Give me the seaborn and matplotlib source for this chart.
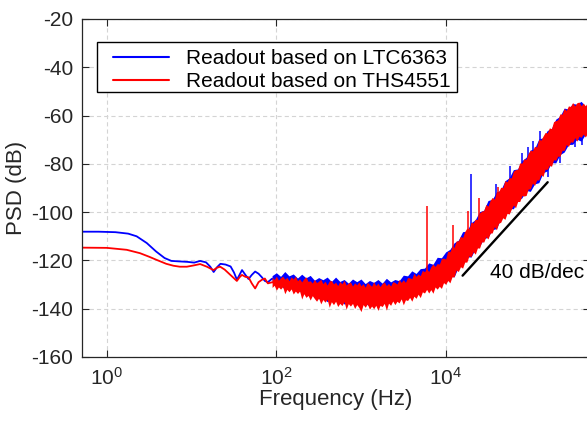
import numpy as np
import pandas as pd
import matplotlib
matplotlib.use("Agg")
import matplotlib.pyplot as plt
from matplotlib.lines import Line2D
from matplotlib.patches import Rectangle
from matplotlib.legend_handler import HandlerLine2D
from matplotlib.ticker import FixedLocator, FixedFormatter, NullLocator
import seaborn as sns

# ---------------- data (log10 of frequency in Hz, PSD in dB) ----------------
# smooth low-frequency part
BLUE_LF_LOGF = [-0.31, -0.10, 0.10, 0.25, 0.35, 0.47, 0.58, 0.68, 0.76, 0.85, 0.95, 1.03,
                1.10, 1.17, 1.22, 1.26, 1.30, 1.34, 1.40, 1.46, 1.50, 1.535, 1.565, 1.595,
                1.635, 1.672, 1.71, 1.75, 1.79, 1.83, 1.865, 1.90]
BLUE_LF_PSD = [-108.1, -108.1, -108.3, -108.9, -110.0, -112.8, -116.3, -119.0, -120.2, -120.4,
               -120.6, -120.9, -120.2, -120.8, -122.6, -124.8, -122.8, -121.4, -121.7, -122.5,
               -125.0, -128.0, -126.0, -124.0, -126.0, -127.7, -126.0, -124.6, -125.5, -127.0,
               -128.5, -129.0]
RED_LF_LOGF = [-0.31, 0.00, 0.233, 0.39, 0.50, 0.588, 0.70, 0.785, 0.86, 0.943, 1.02, 1.10,
               1.18, 1.258, 1.30, 1.337, 1.39, 1.436, 1.49, 1.534, 1.565, 1.594, 1.635, 1.672,
               1.71, 1.75, 1.79, 1.83, 1.865, 1.90]
RED_LF_PSD = [-114.7, -114.8, -115.6, -117.0, -118.5, -119.8, -121.4, -122.2, -122.6, -122.6,
              -122.1, -121.5, -122.6, -124.0, -123.0, -122.6, -123.8, -125.3, -127.0, -128.5,
              -127.0, -126.0, -126.8, -127.0, -129.5, -131.6, -129.0, -128.0, -127.5, -129.5]

# noisy part of LTC6363 trace: lower / upper envelope of the noise band
BLUE_BAND_LOGF = [1.95, 2.00, 2.05, 2.10, 2.15, 2.20, 2.25, 2.30, 2.35, 2.40, 2.45, 2.50, 2.55,
                  2.60, 2.65, 2.70, 2.75, 2.80, 2.85, 2.90, 2.95, 3.00, 3.05, 3.10, 3.15, 3.20,
                  3.25, 3.30, 3.35, 3.40, 3.45, 3.50, 3.55, 3.60, 3.65, 3.70, 3.75, 3.80, 3.85,
                  3.90, 3.95, 4.00, 4.05, 4.10, 4.15, 4.20, 4.25, 4.30, 4.35, 4.40, 4.45, 4.50,
                  4.55, 4.60, 4.65, 4.70, 4.75, 4.80, 4.85, 4.90, 4.95, 5.00, 5.05, 5.10, 5.15,
                  5.20, 5.25, 5.30, 5.35, 5.40, 5.45, 5.50, 5.55, 5.60, 5.65, 5.70]
BLUE_HI = [-126.3, -125.1, -126.6, -124.6, -126.4, -125.6, -127.3, -125.7, -127.2, -126.2,
           -128.2, -127.1, -128.0, -126.9, -128.7, -126.9, -128.7, -127.9, -129.4, -127.7,
           -128.8, -127.7, -129.6, -128.3, -129.1, -127.9, -129.4, -127.4, -128.9, -127.9,
           -128.4, -126.1, -126.4, -124.3, -125.4, -123.4, -123.2, -121.0, -121.6, -118.7,
           -118.9, -116.5, -115.4, -112.7, -111.6, -108.1, -107.9, -104.4, -103.1, -99.8,
           -99.2, -95.2, -94.7, -91.7, -90.9, -87.0, -85.8, -82.4, -82.1, -78.7,
           -77.3, -74.3, -73.7, -69.7, -69.2, -66.2, -65.4, -61.5, -60.3, -56.9,
           -57.3, -55.0, -55.3, -54.1, -56.2, -54.3]
BLUE_LO = [-128.8, -130.7, -130.1, -132.1, -130.4, -132.0, -131.2, -133.9, -133.0, -134.4,
           -133.9, -135.9, -135.2, -137.1, -135.4, -136.9, -135.8, -138.1, -136.9, -137.9,
           -136.9, -138.5, -137.5, -139.1, -137.1, -138.4, -136.6, -138.4, -136.4, -136.7,
           -135.3, -136.4, -134.8, -135.8, -132.8, -133.2, -131.0, -132.4, -130.5, -130.8,
           -128.8, -129.2, -126.6, -126.8, -122.7, -121.9, -118.5, -118.6, -115.2, -114.1,
           -111.0, -110.4, -107.3, -106.8, -102.7, -101.9, -98.5, -98.6, -95.2, -94.1,
           -91.0, -91.4, -88.3, -87.8, -83.7, -82.9, -79.5, -79.6, -76.2, -75.1,
           -72.0, -71.9, -69.8, -70.6, -67.7, -68.4]

# noisy part of THS4551 trace (finer grid, drawn on top)
RED_BAND_LOGF = [1.950, 1.975, 2.000, 2.025, 2.050, 2.075, 2.100, 2.125, 2.150, 2.175,
                 2.200, 2.225, 2.250, 2.275, 2.300, 2.325, 2.350, 2.375, 2.400, 2.425,
                 2.450, 2.475, 2.500, 2.525, 2.550, 2.575, 2.600, 2.625, 2.650, 2.675,
                 2.700, 2.725, 2.750, 2.775, 2.800, 2.825, 2.850, 2.875, 2.900, 2.925,
                 2.950, 2.975, 3.000, 3.025, 3.050, 3.075, 3.100, 3.125, 3.150, 3.175,
                 3.200, 3.225, 3.250, 3.275, 3.300, 3.325, 3.350, 3.375, 3.400, 3.425,
                 3.450, 3.475, 3.500, 3.525, 3.550, 3.575, 3.600, 3.625, 3.650, 3.675,
                 3.700, 3.725, 3.750, 3.775, 3.800, 3.825, 3.850, 3.875, 3.900, 3.925,
                 3.950, 3.975, 4.000, 4.025, 4.050, 4.075, 4.100, 4.125, 4.150, 4.175,
                 4.200, 4.225, 4.250, 4.275, 4.300, 4.325, 4.350, 4.375, 4.400, 4.425,
                 4.450, 4.475, 4.500, 4.525, 4.550, 4.575, 4.600, 4.625, 4.650, 4.675,
                 4.700, 4.725, 4.750, 4.775, 4.800, 4.825, 4.850, 4.875, 4.900, 4.925,
                 4.950, 4.975, 5.000, 5.025, 5.050, 5.075, 5.100, 5.125, 5.150, 5.175,
                 5.200, 5.225, 5.250, 5.275, 5.300, 5.325, 5.350, 5.375, 5.400, 5.425,
                 5.450, 5.475, 5.500, 5.525, 5.550, 5.575, 5.600, 5.625, 5.650, 5.675,
                 5.700]
RED_HI = [-126.9, -127.9, -126.5, -128.2, -127.2, -126.5, -127.8, -127.0, -128.4, -126.8,
          -127.7, -126.5, -128.4, -127.6, -128.9, -127.6, -126.8, -128.7, -128.4, -129.4,
          -127.8, -129.2, -128.6, -127.8, -129.6, -128.6, -130.2, -128.5, -128.3, -129.7,
          -129.0, -130.4, -128.7, -129.7, -128.2, -130.2, -129.4, -128.9, -130.6, -129.3,
          -130.1, -128.9, -130.5, -129.6, -131.1, -129.1, -129.9, -130.7, -128.8, -130.4,
          -129.4, -130.8, -129.6, -128.9, -130.4, -129.5, -130.6, -128.8, -129.1, -129.8,
          -127.9, -129.1, -128.0, -129.1, -127.1, -127.2, -127.6, -125.3, -126.6, -125.6,
          -126.3, -124.1, -124.7, -123.4, -124.6, -122.6, -121.5, -122.5, -121.3, -121.5,
          -119.2, -119.0, -119.4, -116.1, -116.4, -114.4, -114.5, -111.9, -111.9, -110.0,
          -110.5, -108.1, -106.6, -106.9, -104.1, -104.5, -102.9, -103.0, -100.3, -99.6,
          -99.3, -96.8, -97.5, -95.2, -93.9, -94.6, -91.5, -91.6, -89.7, -89.8,
          -86.9, -87.4, -85.7, -85.8, -83.0, -82.4, -82.3, -79.6, -79.7, -77.9,
          -78.1, -75.7, -74.3, -74.6, -72.7, -73.0, -69.8, -70.2, -68.5, -67.0,
          -67.2, -65.1, -65.4, -62.5, -62.1, -61.7, -59.3, -59.4, -57.0, -57.9,
          -56.0, -56.2, -54.6, -56.0, -54.7, -54.4, -55.9, -54.8, -56.0, -54.5,
          -55.8]
RED_LO = [-131.2, -130.3, -132.3, -131.0, -131.9, -130.9, -133.8, -132.0, -133.0, -131.8,
          -133.9, -132.7, -133.7, -132.7, -136.0, -133.8, -135.3, -134.5, -136.4, -134.6,
          -135.8, -136.9, -135.6, -138.0, -136.2, -137.3, -136.1, -139.4, -137.1, -138.3,
          -136.9, -139.1, -137.8, -138.7, -137.1, -140.2, -137.9, -138.9, -137.8, -139.9,
          -138.3, -139.5, -141.2, -138.3, -139.4, -138.0, -140.2, -138.9, -140.0, -138.6,
          -140.7, -138.6, -139.1, -137.8, -140.6, -137.7, -138.6, -136.8, -138.3, -136.9,
          -137.6, -135.9, -138.4, -136.3, -136.6, -135.3, -136.9, -134.8, -135.7, -134.0,
          -135.4, -133.0, -133.5, -132.0, -133.5, -132.1, -133.6, -131.0, -131.9, -130.7,
          -131.6, -129.2, -129.9, -128.3, -129.3, -126.8, -126.8, -124.0, -124.6, -122.6,
          -123.2, -120.7, -120.7, -118.1, -118.5, -116.4, -117.4, -114.8, -114.9, -112.3,
          -112.4, -110.2, -111.1, -108.7, -108.6, -106.0, -107.3, -104.6, -104.2, -102.3,
          -103.0, -100.5, -100.8, -98.8, -97.1, -98.2, -95.6, -95.6, -93.2, -93.3,
          -93.1, -90.4, -90.4, -88.0, -88.9, -86.7, -86.7, -84.5, -85.2, -82.2,
          -82.3, -80.6, -81.0, -78.3, -78.5, -76.8, -76.9, -74.4, -74.4, -72.0,
          -72.8, -70.9, -71.1, -69.1, -70.6, -68.6, -69.0, -67.7, -68.9, -67.3,
          -68.0]

# narrow spectral lines (log10 f, base, tip)
RED_SPIKE_LOGF = [3.776, 4.09, 4.267, 4.397, 4.62]
RED_SPIKE_BASE = [-128.0, -120.0, -112.0, -106.0, -98.0]
RED_SPIKE_TOP = [-97.5, -105.3, -99.6, -94.2, -89.5]
BLUE_SPIKE_LOGF = [4.295, 4.594, 4.76, 4.898, 4.976, 5.035, 5.12, 5.21, 5.35, 5.53, 5.61]
BLUE_SPIKE_BASE = [-112.0, -98.0, -92.0, -86.0, -82.0, -80.0, -76.0, -75.0, -68.0, -62.0, -62.0]
BLUE_SPIKE_TOP = [-84.3, -88.5, -81.0, -75.5, -73.0, -70.5, -66.5, -85.5, -79.5, -73.0, -72.0]

# 40 dB/dec guide
SLOPE_LOGF = [4.20, 5.205]
SLOPE_PSD = [-126.3, -87.6]

SERIES_LABELS = ["Readout based on LTC6363", "Readout based on THS4551"]
XTICKS = [1, 100, 1e4]
XTICK_LABELS = [r"$10^{0}$", r"$10^{2}$", r"$10^{4}$"]
YTICKS = [-160, -140, -120, -100, -80, -60, -40, -20]

# ---------------- style ----------------
sns.set_style("ticks")
plt.rcParams["font.family"] = ["Liberation Sans", "DejaVu Sans"]
plt.rcParams["font.size"] = 15
plt.rcParams["axes.unicode_minus"] = False
plt.rcParams["mathtext.fontset"] = "custom"
plt.rcParams["mathtext.rm"] = "Liberation Sans"
plt.rcParams["mathtext.it"] = "Liberation Sans:italic"
plt.rcParams["mathtext.bf"] = "Liberation Sans:bold"
plt.rcParams["lines.scale_dashes"] = False

DARK = "#262626"
BLUE = "#0000ff"
RED = "#ff0000"
FS = 15

fig = plt.figure(figsize=(5.87, 4.22), dpi=100)
ax = fig.add_axes([81.5 / 587, 65 / 422, 508 / 587, 338 / 422])
ax.set_xscale("log")


def frame(lf_logf, lf_psd, band_logf, lo, hi):
    x = list(lf_logf) + list(band_logf) + list(band_logf)
    y = list(lf_psd) + list(lo) + list(hi)
    return pd.DataFrame({"freq": 10 ** np.asarray(x, dtype=float), "psd": y})


blue_df = frame(BLUE_LF_LOGF, BLUE_LF_PSD, BLUE_BAND_LOGF, BLUE_LO, BLUE_HI)
red_df = frame(RED_LF_LOGF, RED_LF_PSD, RED_BAND_LOGF, RED_LO, RED_HI)

sns.lineplot(data=blue_df, x="freq", y="psd", color=BLUE, lw=1.3, estimator="mean",
             errorbar=("pi", 100), zorder=2.0,
             err_kws={"alpha": 1.0, "linewidth": 0, "zorder": 2.0}, ax=ax)
ax.vlines(10 ** np.asarray(BLUE_SPIKE_LOGF), BLUE_SPIKE_BASE, BLUE_SPIKE_TOP,
          colors=BLUE, lw=1.1, zorder=2.2)
sns.lineplot(data=red_df, x="freq", y="psd", color=RED, lw=1.3, estimator="mean",
             errorbar=("pi", 100), zorder=3.0,
             err_kws={"alpha": 1.0, "linewidth": 0, "zorder": 3.0}, ax=ax)
ax.vlines(10 ** np.asarray(RED_SPIKE_LOGF), RED_SPIKE_BASE, RED_SPIKE_TOP,
          colors=RED, lw=1.1, zorder=3.2)

sns.lineplot(x=10 ** np.asarray(SLOPE_LOGF), y=SLOPE_PSD, color="black", lw=1.7, zorder=4, ax=ax)
ax.text(10 ** 4.52, -124.8, "40 dB/dec", ha="left", va="center", color="black",
        fontsize=FS, zorder=4)

# axes
ax.set_xlim(0.5, 5e5)
ax.set_ylim(-160, -20)
ax.xaxis.set_major_locator(FixedLocator(XTICKS))
ax.xaxis.set_major_formatter(FixedFormatter(XTICK_LABELS))
ax.xaxis.set_minor_locator(NullLocator())
ax.set_yticks(YTICKS)
ax.tick_params(which="both", direction="in", top=True, right=True, length=5, width=0.8,
               colors=DARK, labelcolor=DARK, labelsize=FS)
ax.tick_params(axis="y", pad=6)
ax.tick_params(axis="x", pad=7)
for s in ax.spines.values():
    s.set_color(DARK)
    s.set_linewidth(0.9)
    s.set_zorder(5)
ax.set_axisbelow(True)
ax.grid(True, which="major", color="#d4d4d4", linestyle=(0, (3.0, 2.2)), linewidth=0.8)
ax.set_xlabel("Frequency (Hz)", color=DARK, fontsize=16, labelpad=0)
ax.set_ylabel("PSD (dB)", color=DARK, fontsize=16, labelpad=3)


class ShiftedLine(HandlerLine2D):
    def __init__(self, shift, **kw):
        super().__init__(**kw)
        self.shift = shift

    def create_artists(self, legend, orig_handle, xdescent, ydescent, width, height,
                       fontsize, trans):
        s = self.shift * fontsize
        return super().create_artists(legend, orig_handle, xdescent - s, ydescent,
                                      width - s, height, fontsize, trans)


# legend frame (square MATLAB-style box)
ax.add_patch(Rectangle((0.0305, 0.7831), 0.7087, 0.1489, transform=ax.transAxes,
                       facecolor="white", edgecolor="black", linewidth=1.0, zorder=6))
handles = [Line2D([], [], color=BLUE, lw=1.5), Line2D([], [], color=RED, lw=1.5)]
leg = ax.legend(handles, SERIES_LABELS, loc="upper left",
                bbox_to_anchor=(0.0305, 0.932), borderaxespad=0, borderpad=0.33,
                labelspacing=0.22, handlelength=3.125, handletextpad=0.84,
                frameon=False, fontsize=FS,
                handler_map={h: ShiftedLine(0.44) for h in handles})
leg.set_zorder(7)
for t in leg.get_texts():
    t.set_color("black")

fig.savefig("out.png", dpi=100, facecolor="white")
